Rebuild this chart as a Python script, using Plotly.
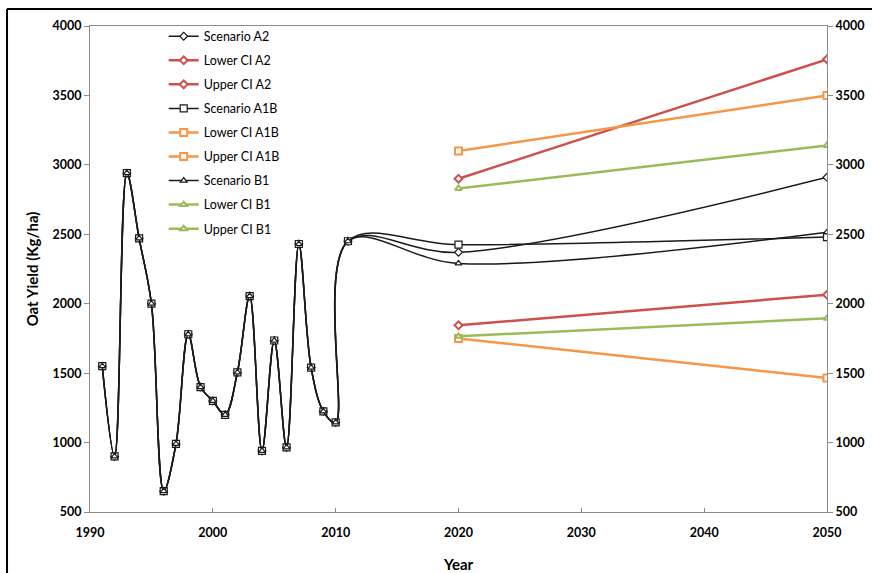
import plotly.graph_objects as go

# Observed yields 1991-2011 (shared start of every scenario line)
hist_years = list(range(1991, 2012))
hist_yield = [1550, 900, 2940, 2470, 2000, 650, 990, 1780, 1400, 1300,
              1200, 1505, 2055, 940, 1735, 965, 2430, 1540, 1225, 1145, 2450]

# Projection years
proj_years = [2020, 2050]

# Scenario projections
a2_proj = [2370, 2910]
a1b_proj = [2425, 2480]
b1_proj = [2290, 2515]

# Confidence interval bounds
a2_lower = [1845, 2065]
a2_upper = [2900, 3760]
a1b_lower = [1750, 1465]
a1b_upper = [3100, 3500]
b1_lower = [1765, 1895]
b1_upper = [2830, 3140]

RED = "#CD504D"
ORANGE = "#F79646"
GREEN = "#9BBB59"
AXIS = "#8C8C8C"
FONT = "Lato"

fig = go.Figure()


def scenario(name, proj, symbol, size):
    fig.add_trace(go.Scatter(
        x=hist_years + proj_years, y=hist_yield + proj, name=name,
        mode="lines+markers",
        line=dict(color="#1a1a1a", width=1.5, shape="spline", smoothing=1),
        marker=dict(symbol=symbol, size=size, color="white",
                    line=dict(color="#1a1a1a", width=1.2)),
        legendgroup=name,
    ))


def bound(name, vals, color, symbol, size):
    fig.add_trace(go.Scatter(
        x=proj_years, y=vals, name=name, mode="lines+markers",
        line=dict(color=color, width=2.5),
        marker=dict(symbol=symbol, size=size, color="white",
                    line=dict(color=color, width=2)),
        legendgroup=name,
    ))


scenario("Scenario A2", a2_proj, "diamond", 6)
bound("Lower CI A2", a2_lower, RED, "diamond", 6)
bound("Upper CI A2", a2_upper, RED, "diamond", 6)
scenario("Scenario A1B", a1b_proj, "square", 7)
bound("Lower CI A1B", a1b_lower, ORANGE, "square", 7)
bound("Upper CI A1B", a1b_upper, ORANGE, "square", 7)
scenario("Scenario B1", b1_proj, "triangle-up", 6)
bound("Lower CI B1", b1_lower, GREEN, "triangle-up", 6)
bound("Upper CI B1", b1_upper, GREEN, "triangle-up", 6)

# Invisible trace so the secondary (right) axis is drawn
fig.add_trace(go.Scatter(x=[1990], y=[500], yaxis="y2", mode="markers",
                         marker=dict(opacity=0), showlegend=False,
                         hoverinfo="skip"))

tick_font = dict(family=FONT, size=12.5, color="black", weight="bold")

fig.update_layout(
    width=872, height=573,
    margin=dict(l=90, r=45, t=26, b=61, autoexpand=False),
    paper_bgcolor="white", plot_bgcolor="white",
    font=dict(family=FONT, color="black"),
    showlegend=True,
    legend=dict(x=0.1, y=1.009, xanchor="left", yanchor="top",
                bgcolor="rgba(0,0,0,0)", borderwidth=0,
                traceorder="grouped", tracegroupgap=4.8,
                font=dict(family=FONT, size=12.5, color="black"),
                itemwidth=30),
    xaxis=dict(range=[1990, 2050], dtick=10, tick0=1990,
               showgrid=False, zeroline=False,
               showline=True, linecolor=AXIS, linewidth=1, mirror=True,
               ticks="inside", ticklen=4, tickcolor=AXIS,
               tickfont=tick_font, ticklabelstandoff=9,
               title=dict(text="Year", standoff=20,
                          font=dict(family=FONT, size=15, weight="bold"))),
    yaxis=dict(range=[500, 4000], dtick=500, tick0=500,
               showgrid=False, zeroline=False,
               showline=True, linecolor=AXIS, linewidth=1,
               ticks="outside", ticklen=5, tickcolor=AXIS,
               tickfont=tick_font,
               title=dict(text="Oat Yield (Kg/ha)", standoff=10,
                          font=dict(family=FONT, size=15, weight="bold"))),
    yaxis2=dict(range=[500, 4000], dtick=500, tick0=500,
                overlaying="y", side="right",
                showgrid=False, zeroline=False,
                showline=True, linecolor=AXIS, linewidth=1,
                ticks="outside", ticklen=5, tickcolor=AXIS,
                tickfont=tick_font),
    shapes=[
        dict(type="line", xref="paper", yref="paper",
             x0=-0.1126, x1=1.08, y0=1.035, y1=1.035,
             line=dict(color="black", width=2)),
        dict(type="line", xref="paper", yref="paper",
             x0=-0.1126, x1=-0.1126, y0=1.035, y1=-0.15,
             line=dict(color="black", width=2)),
    ],
)

fig.write_html("out.html")
